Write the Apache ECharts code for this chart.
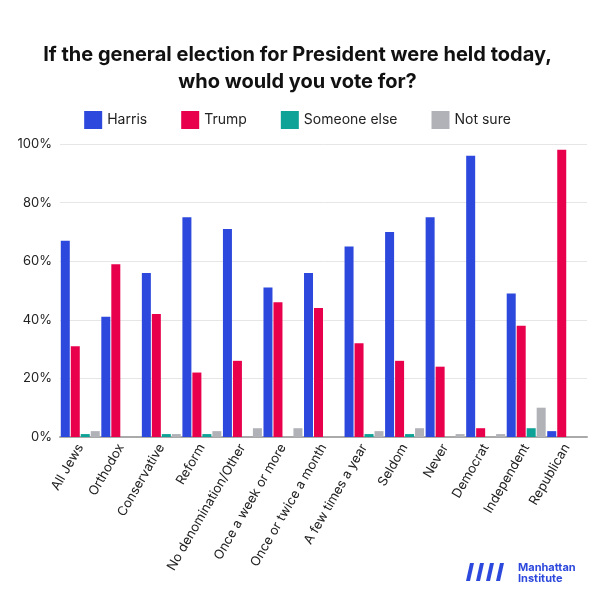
<!DOCTYPE html>
<html><head><meta charset="utf-8">
<script src="https://cdn.jsdelivr.net/npm/echarts@6/dist/echarts.min.js"></script>
<style>body{margin:0;background:#fff}#c{width:595px;height:593px}</style>
</head><body><div id="c"></div>
<script>
var categories = ['All Jews', 'Orthodox', 'Conservative', 'Reform', 'No denomination/Other', 'Once a week or more', 'Once or twice a month', 'A few times a year', 'Seldom', 'Never', 'Democrat', 'Independent', 'Republican'];
var harris = [67, 41, 56, 75, 71, 51, 56, 65, 70, 75, 96, 49, 2];
var trump = [31, 59, 42, 22, 26, 46, 44, 32, 26, 24, 3, 38, 98];
var someoneElse = [1, 0, 1, 1, 0, 0, 0, 1, 1, 0, 0, 3, 0];
var notSure = [2, 0, 1, 2, 3, 3, 0, 2, 3, 1, 1, 10, 0];

var chart = echarts.init(document.getElementById('c'));
function bar(name, data, color) {
    return { name: name, type: 'bar', data: data, barWidth: 9, barGap: '11%',
        itemStyle: { color: color } };
}
chart.setOption({
    textStyle: { fontFamily: 'Inter' },
    title: {
        text: 'If the general election for President were held today,\nwho would you vote for?',
        left: 'center', top: 36,
        textStyle: { fontSize: 20, fontWeight: 'bold', color: '#111', lineHeight: 27, fontFamily: 'Inter' }
    },
    legend: {
        top: 106, left: 'center', itemWidth: 18, itemHeight: 18, itemGap: 34,
        icon: 'rect', textStyle: { fontSize: 14, color: '#222' },
        data: ['Harris', 'Trump', 'Someone else', 'Not sure']
    },
    grid: { left: 60, right: 8, top: 144, bottom: 156 },
    xAxis: {
        type: 'category', data: categories,
        axisTick: { show: false },
        axisLine: { lineStyle: { color: '#aaa', width: 2 } },
        axisLabel: { rotate: 60, interval: 0, fontSize: 13, color: '#222', margin: 8 }
    },
    yAxis: {
        type: 'value', min: 0, max: 100, interval: 20,
        axisLabel: { formatter: '{value}%', fontSize: 13, color: '#222' },
        splitLine: { lineStyle: { color: '#e6e6e6' } }
    },
    series: [
        bar('Harris', harris, '#2D48DC'),
        bar('Trump', trump, '#E8004C'),
        bar('Someone else', someoneElse, '#0FA296'),
        bar('Not sure', notSure, '#B0B2B8')
    ],
    graphic: [
        { type: 'group', left: 466, top: 562, children: [
            { type: 'polygon', shape: { points: [[0, 18], [4, 0], [8, 0], [4, 18]] }, style: { fill: '#2D48DC' } },
            { type: 'polygon', shape: { points: [[10, 18], [14, 0], [18, 0], [14, 18]] }, style: { fill: '#2D48DC' } },
            { type: 'polygon', shape: { points: [[20, 18], [24, 0], [28, 0], [24, 18]] }, style: { fill: '#2D48DC' } },
            { type: 'polygon', shape: { points: [[30, 18], [34, 0], [38, 0], [34, 18]] }, style: { fill: '#2D48DC' } },
            { type: 'text', left: 52, top: -1, style: { text: 'Manhattan\nInstitute', fill: '#2D48DC', fontSize: 11, fontWeight: 'bold', lineHeight: 11, fontFamily: 'Inter' } }
        ] }
    ]
});
</script>
</body></html>
